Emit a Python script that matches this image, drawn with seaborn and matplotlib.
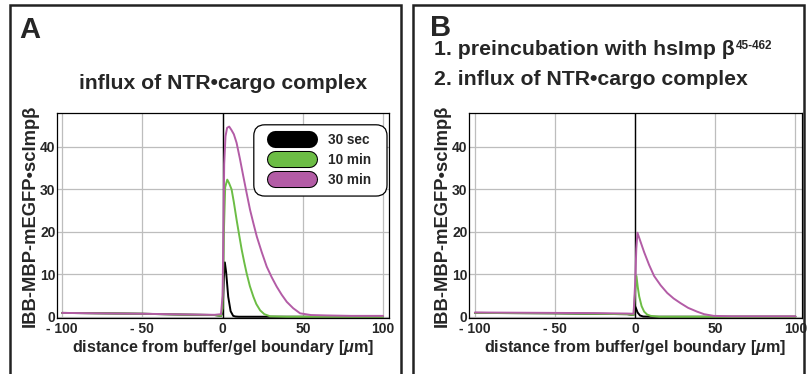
import numpy as np
import pandas as pd
import matplotlib
matplotlib.use("Agg")
import matplotlib.pyplot as plt
import matplotlib.patheffects as pe
from matplotlib.lines import Line2D
from matplotlib.patches import Rectangle, FancyBboxPatch
from matplotlib.transforms import IdentityTransform
from matplotlib.ticker import MultipleLocator, FuncFormatter
import seaborn as sns

# ---- data ----
series_names = ["30 sec", "10 min", "30 min"]
colors = {"30 sec": "#000000", "10 min": "#6cbd45", "30 min": "#b35ca6"}

# panel A: influx of NTR-cargo complex
a_x_30s = [-100, -75, -50, -25, -5, -1, 0, 0.7, 1.4, 2.2, 3.5, 5, 6.6, 8, 10, 20, 50, 100]
a_y_30s = [0.9, 0.8, 0.7, 0.5, 0.4, 0.2, 1.0, 9.0, 12.8, 10.5, 4.7, 1.3, 0.2, 0.05, 0, 0, 0, 0]
a_x_10m = [-100, -75, -50, -25, -5, -1, 0, 0.8, 1.6, 2.9, 4, 5.6, 7, 8.7, 10.3, 11.9, 13.5,
           15, 17, 19.2, 21, 23.4, 26, 29.6, 40, 60, 100]
a_y_10m = [0.9, 0.8, 0.7, 0.5, 0.4, 0.2, 2, 20, 30.5, 32.3, 31.5, 30, 27, 22.9, 19.3, 15.8, 12.8,
           10.2, 7.2, 4.7, 3.0, 1.5, 0.6, 0.1, 0, 0, 0]
a_x_30m = [-100, -75, -50, -25, -5, -1, 0, 0.5, 1, 1.8, 2.8, 4.1, 5.5, 7, 8.7, 10.8, 12.9, 15,
           17.1, 19.2, 21.3, 24.4, 27.5, 30.6, 33.7, 36.8, 40, 44, 48.3, 55, 65, 80, 100]
a_y_30m = [0.9, 0.8, 0.7, 0.55, 0.45, 0.6, 5, 20, 36, 42.5, 44.5, 44.8, 44, 43, 41, 37.2, 33.1, 29.1,
           25.2, 22, 18.9, 15.2, 11.8, 9.3, 7.1, 5.2, 3.5, 2.0, 0.8, 0.4, 0.3, 0.2, 0.2]

# panel B: preincubation with hsImpb 45-462, then influx
b_x_30s = [-100, -50, -5, -1, 0, 0.5, 1.5, 3, 5, 10, 100]
b_y_30s = [0.9, 0.8, 0.6, 0.4, 2.4, 2.0, 1.0, 0.3, 0.05, 0, 0]
b_x_10m = [-100, -50, -5, -1, 0, 0.8, 1.6, 2.5, 4, 5.6, 7.5, 9.7, 15, 100]
b_y_10m = [0.9, 0.8, 0.6, 0.4, 6, 9.6, 7.0, 4.8, 2.5, 1.2, 0.5, 0.2, 0, 0]
b_x_30m = [-100, -75, -50, -25, -5, -1, 0, 0.7, 1.4, 3.5, 5.6, 8.7, 11.8, 15.9, 20, 24, 28.3,
           33, 38.6, 43, 49, 60, 80, 100]
b_y_30m = [1.0, 0.95, 0.9, 0.85, 0.75, 0.7, 8, 16, 19.8, 17.5, 15.2, 12.2, 9.6, 7.4, 5.6, 4.3, 3.2,
           2.1, 1.2, 0.6, 0.2, 0.1, 0.1, 0.1]

x_ticks = [-100, -50, 0, 50, 100]
y_ticks = [0, 10, 20, 30, 40]


def make_df(xs, ys):
    frames = []
    for name, x, y in zip(series_names, xs, ys):
        frames.append(pd.DataFrame({"x": x, "y": y, "series": name}))
    return pd.concat(frames, ignore_index=True)


df_a = make_df([a_x_30s, a_x_10m, a_x_30m], [a_y_30s, a_y_10m, a_y_30m])
df_b = make_df([b_x_30s, b_x_10m, b_x_30m], [b_y_30s, b_y_10m, b_y_30m])

sns.set_style("white")
plt.rcParams["font.family"] = ["Liberation Sans", "DejaVu Sans"]
plt.rcParams["font.weight"] = "bold"
plt.rcParams["mathtext.fontset"] = "custom"
plt.rcParams["mathtext.it"] = "Liberation Sans:italic:bold"
plt.rcParams["mathtext.rm"] = "Liberation Sans:bold"

fig = plt.figure(figsize=(8.08, 3.74), dpi=100)
W, H = 808, 374


def px_axes(l, t, r, b):
    return fig.add_axes([l / W, 1 - b / H, (r - l) / W, (b - t) / H])


ax_a = px_axes(57, 113, 389, 318)
ax_b = px_axes(469, 113, 802, 318)


def tick_fmt(v, pos):
    v = int(round(v))
    return "- %d" % abs(v) if v < 0 else "%d" % v


for ax, df, xlim in [(ax_a, df_a, (-103.2, 103.7)), (ax_b, df_b, (-103.7, 104.1))]:
    ax.axvline(0, color="black", lw=1.0, zorder=1)
    sns.lineplot(data=df, x="x", y="y", hue="series", palette=colors,
                 sort=False, estimator=None, lw=1.4, legend=False, ax=ax, zorder=3)
    ax.set_xlim(*xlim)
    ax.set_ylim(-0.3, 48)
    ax.set_xticks(x_ticks)
    ax.set_yticks(y_ticks)
    ax.xaxis.set_minor_locator(MultipleLocator(10))
    ax.yaxis.set_minor_locator(MultipleLocator(2))
    ax.xaxis.set_major_formatter(FuncFormatter(tick_fmt))
    ax.tick_params(which="both", direction="in", labelsize=10)
    ax.tick_params(axis="x", pad=3)
    ax.tick_params(axis="y", pad=1)
    ax.tick_params(which="major", length=3, width=0.8)
    ax.tick_params(which="minor", length=1.5, width=0.6)
    ax.grid(True, which="major", color="#bdbdbd", lw=0.9, zorder=0)
    ax.set_axisbelow(True)
    for s in ax.spines.values():
        s.set_color("black")
        s.set_linewidth(0.9)
    ax.set_xlabel(r"distance from buffer/gel boundary [$\mathit{\mu}$m]",
                  fontsize=11.6, fontweight="bold", labelpad=1.5)
    ax.set_ylabel("IBB-MBP-mEGFP\u2022scImp\u03b2", fontsize=13.2, fontweight="bold", labelpad=1)
    for lab in ax.get_xticklabels() + ax.get_yticklabels():
        lab.set_fontweight("bold")

# legend with pill shaped handles, frame drawn separately with wider side padding
handles = [Line2D([0], [0], color=colors[n], lw=10.8, solid_capstyle="round",
                  path_effects=[pe.Stroke(linewidth=12.3, foreground="black"), pe.Normal()])
           for n in series_names]
leg = ax_a.legend(handles, series_names, loc="upper left",
                  bbox_to_anchor=(268 / W, 1 - 126 / H), bbox_transform=fig.transFigure,
                  handlelength=2.5, handletextpad=1.4, labelspacing=0.45,
                  borderpad=0, frameon=False, prop={"weight": "bold", "size": 9.8})
leg.set_zorder(6)

fig.canvas.draw()
bb = leg.get_window_extent(fig.canvas.get_renderer())
frame = FancyBboxPatch((bb.x0 - 21, bb.y0 - 9), bb.width + 37, bb.height + 17,
                       boxstyle="round,pad=0,rounding_size=11", transform=IdentityTransform(),
                       facecolor="white", edgecolor="black", lw=0.9, zorder=5, clip_on=False)
ax_a.add_artist(frame)

# panel frames
for x0 in (10, 413):
    fig.patches.append(Rectangle((x0 / W, -0.05), 391 / W, 1.05 - 5 / H, transform=fig.transFigure,
                                 fill=False, edgecolor="#222222", lw=1.8))

fig.text(19 / W, 1 - 30 / H, "A", fontsize=21, fontweight="bold", va="center", ha="left")
fig.text(223 / W, 1 - 89 / H, "influx of NTR\u2022cargo complex", fontsize=15.2,
         fontweight="bold", va="baseline", ha="center")

fig.text(430 / W, 1 - 28 / H, "B", fontsize=21, fontweight="bold", va="center", ha="left")
t1 = fig.text(434 / W, 1 - 55 / H, "1. preincubation with hsImp \u03b2", fontsize=15.3,
              fontweight="bold", va="baseline", ha="left")
ax_b.annotate("45-462", xy=(1.0, 1.0), xycoords=t1, xytext=(1, 0), textcoords="offset points",
              ha="left", va="top", fontsize=8.5, fontweight="bold")
fig.text(434 / W, 1 - 85 / H, "2. influx of NTR\u2022cargo complex", fontsize=15.3,
         fontweight="bold", va="baseline", ha="left")

fig.savefig("out.png", dpi=100)
